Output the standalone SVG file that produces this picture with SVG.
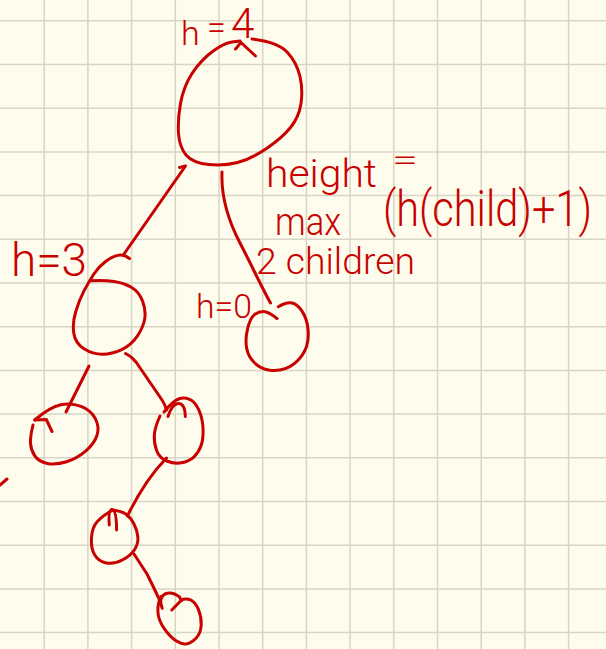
<svg xmlns="http://www.w3.org/2000/svg" width="606" height="649" viewBox="0 0 606 649">
<style>
.grid{stroke:#d7d5c5;stroke-width:1.5;fill:none}
.ink{stroke:#c80000;stroke-width:3;fill:none;stroke-linecap:round;stroke-linejoin:round}
.t{font-family:Roboto,"Liberation Sans",Arial,sans-serif;font-weight:300;fill:#c80000}
</style>
<rect width="606" height="649" fill="#fefcec"/>
<path class="grid" d="M44.2 0V649M87.9 0V649M131.6 0V649M175.3 0V649M219 0V649M262.7 0V649M306.4 0V649M350.1 0V649M393.8 0V649M437.5 0V649M481.2 0V649M524.9 0V649M568.6 0V649M0 20.8H606M0 64.5H606M0 108.2H606M0 151.9H606M0 195.6H606M0 239.3H606M0 283H606M0 326.7H606M0 370.4H606M0 414.1H606M0 457.8H606M0 501.5H606M0 545.2H606M0 588.9H606M0 632.6H606"/>
<g id="connectors" class="ink">
<path d="M179.5 167.5 L185.5 166 L124 254"/>
<path d="M222 172 C221 195 228 220 240 243 S262 288 270.5 303"/>
<path d="M87.5 369 L89 366 L66 412"/>
<path d="M125.5 353.5 Q131 356 136 362 L160 397 Q165 404 166.5 410"/>
<path d="M166.5 458 Q145 480 127.4 516"/>
<path d="M134 554 L147 574 Q155 590 160 601"/>
<path d="M0 485 L7 479"/>
</g>
<g id="root" class="ink">
<path d="M252 39 Q278 42 287.5 52.5 Q297 63 300 76.5 Q303 90 301 103.5 Q299 117 290.5 127.5 Q282 138 266.5 148.5 Q251 159 237.5 162.5 Q224 166 208.5 164.5 Q193 163 186 155 Q179.5 147 178.5 133.5 Q177.6 120 180.5 103.5 Q183.4 87 192 73.5 Q201 60 212.5 51.5 Q224 43 232 42 L240 41"/>
<path d="M235.5 49 L241 42.5 L255.5 56"/>
<text class="t" font-size="34" stroke="none"><tspan x="181" y="45">h</tspan><tspan x="207" y="39">=</tspan><tspan x="231" y="38" font-size="42">4</tspan></text>
</g>
<g id="node-h3" class="ink">
<path d="M129.5 258.5 Q123.6 254 117.8 255.4 Q112 256.7 105.3 261.7 Q98.5 266.7 93.7 274.2 Q88.8 281.7 84 290.9 Q79.2 300 75.7 311.7 Q72.2 323.3 73.8 333.3 Q75.3 343.3 84 348.8 Q92.7 354.3 102.4 354.3 Q112 354.3 121.7 349.7 Q131.3 345 137.5 335.9 Q143.6 326.7 144.8 318.4 Q146 310 142.5 300.9 Q139 291.7 131.3 287.2 Q123.6 282.7 113.9 281.4 Q104.2 280 90.7 280.7"/>
<text class="t" x="11" y="276" font-size="46" textLength="76" lengthAdjust="spacingAndGlyphs" stroke="none">h=3</text>
</g>
<g id="node-h0" class="ink">
<path d="M277 318.5 Q268.3 311.5 263.3 311.5 Q258.3 311.5 254.2 314.9 Q250 318.3 247.5 329.2 Q245 340 246.7 348.4 Q248.3 356.7 254.2 362.5 Q260 368.3 268.4 370 Q276.7 371.7 285.9 368.4 Q295 365 301.7 355.9 Q308.3 346.7 308.3 335 Q308.3 323.3 304.2 315 Q300 306.7 294.2 303.7 Q288.3 300.7 278.3 306.7"/>
<text class="t" x="196" y="318" font-size="34" textLength="56" lengthAdjust="spacingAndGlyphs" stroke="none">h=0</text>
</g>
<g id="node-left-leaf" class="ink">
<path d="M34.7 420 Q50.2 406.7 60.8 404.7 Q71.4 402.7 81 406.4 Q90.7 410 95.2 418.4 Q99.6 426.7 97.1 435 Q94.6 443.3 85.9 450.8 Q77.2 458.3 66.6 461.7 Q56 465 47.3 463.4 Q38.6 461.7 34.8 455.9 Q30.9 450 30.5 443.4 Q30.1 436.7 33 425"/>
<path d="M34.7 420 L46.3 419.5 L52 431.5"/>
</g>
<g id="node-right" class="ink">
<path d="M164 412 Q173 401 178.5 399 Q184 397 189.5 399.3 Q195 401.5 198.8 409.8 Q202.5 418 203 428 Q203.5 438 201.3 445 Q199 452 194 456.8 Q189 461.5 181.5 462.8 Q174 464 166.8 461 Q159.5 458 156.8 451 Q154 444 154.3 436 Q154.5 428 160 416"/>
<path d="M168 416.5 Q172 404 178 403.5 Q185 403 185.3 416.5"/>
</g>
<g id="node-3" class="ink">
<path d="M111.5 510 Q122 511 126.5 514.5 Q131 518 134 524 Q137 530 137.8 536.5 Q138.5 543 135 549 Q131.5 555 122.8 559.8 Q114 564.5 106.3 563 Q98.5 561.5 94.6 554.8 Q90.7 548 91.5 537.5 Q92.2 527 97.6 521.3 Q103 515.5 112 510.5"/>
<path d="M109.3 525 Q108 510 112 509.5 Q116.5 510 116.6 530"/>
</g>
<g id="node-4" class="ink">
<path d="M162.2 608.3 Q158 598 165 594 Q172 591 179.5 597 L181.5 600.7"/>
<path d="M181 600 Q186 598 190.5 599.9 Q195 601.7 198.3 609.2 Q201.5 616.7 201.2 625 Q200.8 633.3 196 638.3 Q191.1 643.3 186.3 643.9 Q181.5 644.5 175.7 640.6 Q169.9 636.7 164.1 628.4 Q158.3 620 157.9 611.7 Q157.5 603.3 161 596.5"/>
<path d="M171.8 610 L181.5 600"/>
</g>
<g id="note">
<text class="t" x="266" y="187" font-size="38" textLength="111" lengthAdjust="spacingAndGlyphs">height</text>
<text class="t" x="392" y="170" font-size="30" textLength="26" lengthAdjust="spacingAndGlyphs">=</text>
<text class="t" transform="translate(383 226) scale(1 1.18)" x="0" y="0" font-size="43" textLength="209" lengthAdjust="spacingAndGlyphs">(h(child)+1)</text>
<text class="t" x="275" y="235" font-size="38" textLength="66" lengthAdjust="spacingAndGlyphs">max</text>
<text class="t" x="256" y="274" font-size="36" textLength="159" lengthAdjust="spacingAndGlyphs">2 children</text>
</g>
</svg>
